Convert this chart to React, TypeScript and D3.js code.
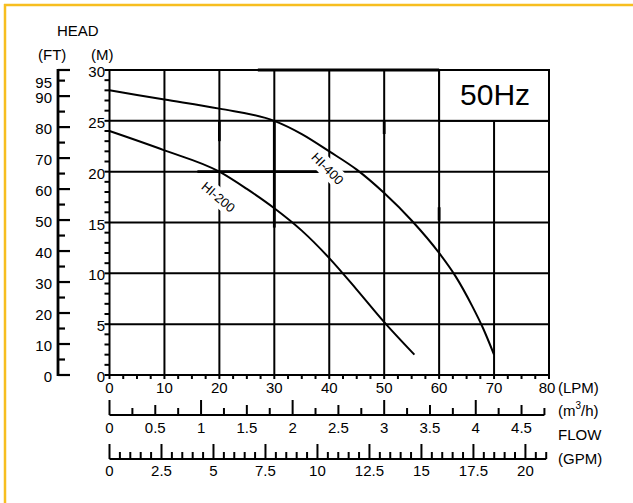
import React from 'react';
import * as d3 from 'd3';

// ---- data ----
const LPM_TICKS = [0, 10, 20, 30, 40, 50, 60, 70, 80];
const HEAD_M_TICKS = [0, 5, 10, 15, 20, 25, 30];
const FT_LABELS = [0, 10, 20, 30, 40, 50, 60, 70, 80, 90, 95];
const M3H_LABELS = [0, 0.5, 1, 1.5, 2, 2.5, 3, 3.5, 4, 4.5];
const GPM_LABELS = [0, 2.5, 5, 7.5, 10, 12.5, 15, 17.5, 20];

const HI200_FLOW = [0, 10, 20, 25, 30, 35, 40, 45, 50, 55.5];
const HI200_HEAD = [24.0, 22.1, 20.0, 18.3, 16.4, 14.2, 11.5, 8.4, 5.2, 2.0];
const HI400_FLOW = [0, 10, 20, 30, 35, 40, 45, 50, 55, 60, 63, 66, 68, 70];
const HI400_HEAD = [28.0, 27.1, 26.2, 25.0, 23.7, 22.0, 20.2, 17.9, 15.2, 12.0, 9.7, 6.8, 4.6, 2.0];

const CURVE_NAMES = ['HI-200', 'HI-400'];
const LABEL_FLOW = [19.8, 39.7];
const LABEL_HEAD = [17.5, 20.3];
const LABEL_ANGLE = [40, 45];

// heavier grid segments seen in the original print: [flow0, head0, flow1, head1]
const HEAVY_SEGMENTS: [number, number, number, number][] = [
  [27, 30, 60, 30],
  [16, 20, 38, 20],
  [30, 25, 30, 14.5],
  [20, 25, 20, 23],
  [50, 25, 50, 23.7],
  [60, 16.5, 60, 15.2],
];

const FREQ_LABEL = '50Hz';

const FONT = '"Liberation Sans", Arial, Helvetica, sans-serif';

export default function App() {
  const x = d3.scaleLinear().domain([0, 80]).range([109.5, 549]);
  const y = d3.scaleLinear().domain([0, 30]).range([375, 70]);
  const xM3h = (v: number) => x((v * 1000) / 60);
  const xGpm = (v: number) => x(v * 3.78541);
  const yFt = (v: number) => y(v * 0.3048);

  const line = d3
    .line<[number, number]>()
    .x((d) => x(d[0]))
    .y((d) => y(d[1]))
    .curve(d3.curveMonotoneX);

  const hi200: [number, number][] = HI200_FLOW.map((f, i) => [f, HI200_HEAD[i]]);
  const hi400: [number, number][] = HI400_FLOW.map((f, i) => [f, HI400_HEAD[i]]);

  const x0 = x(0), x1 = x(80), yTop = y(30), yBot = y(0);
  const ftAxisX = 58;

  const ftTicks = d3.range(0, 100, 5);
  const mMinor = d3.range(0, 31, 1);
  const lpmMinor = d3.range(0, 80.1, 2.5);
  const m3hTicks = d3.range(0, 4.76, 0.25);
  const gpmTicks = d3.range(0, 21.01, 0.5);

  const m3hY = 415;
  const gpmY = 459;

  const txt = { fontFamily: FONT, fontSize: 15, fill: '#000' } as const;

  return (
    <svg
      width={633}
      height={503}
      style={{ position: 'absolute', left: 0, top: 0, background: '#fff' }}
    >
      {/* yellow frame */}
      <line x1={4} y1={5} x2={633} y2={5} stroke="#F7BE1F" strokeWidth={2.5} />
      <line x1={5} y1={4} x2={5} y2={503} stroke="#F7BE1F" strokeWidth={2.5} />

      {/* titles */}
      <text x={57} y={36} {...txt}>HEAD</text>
      <text x={38} y={60} {...txt}>(FT)</text>
      <text x={91} y={60} {...txt}>(M)</text>

      {/* FT axis */}
      <line x1={ftAxisX} y1={yTop - 1} x2={ftAxisX} y2={yBot + 1} stroke="#000" strokeWidth={2.8} />
      <line x1={ftAxisX} y1={yTop} x2={ftAxisX + 12} y2={yTop} stroke="#000" strokeWidth={2.2} />
      {ftTicks.map((t) => (
        <line
          key={'ft' + t}
          x1={ftAxisX}
          x2={ftAxisX + (t % 10 === 0 ? 12 : 7)}
          y1={yFt(t)}
          y2={yFt(t)}
          stroke="#000"
          strokeWidth={2.2}
        />
      ))}
      {FT_LABELS.map((t) => (
        <text key={'ftl' + t} x={52} y={yFt(t) + 1.5} textAnchor="end" dominantBaseline="central" {...txt}>
          {t}
        </text>
      ))}

      {/* grid */}
      {LPM_TICKS.filter((t) => t > 0 && t < 80).map((t) => (
        <line key={'gv' + t} x1={x(t)} x2={x(t)} y1={yTop} y2={yBot} stroke="#000" strokeWidth={2} />
      ))}
      {HEAD_M_TICKS.filter((t) => t > 0 && t < 30).map((t) => (
        <line key={'gh' + t} x1={x0} x2={x1} y1={y(t)} y2={y(t)} stroke="#000" strokeWidth={2} />
      ))}
      <rect x={x0} y={yTop} width={x1 - x0} height={yBot - yTop} fill="none" stroke="#000" strokeWidth={2} />
      {HEAVY_SEGMENTS.map((s, i) => (
        <line
          key={'hv' + i}
          x1={x(s[0])}
          y1={y(s[1])}
          x2={x(s[2])}
          y2={y(s[3])}
          stroke="#000"
          strokeWidth={2.8}
        />
      ))}

      {/* curves */}
      <path d={line(hi200) || ''} fill="none" stroke="#000" strokeWidth={2} />
      <path d={line(hi400) || ''} fill="none" stroke="#000" strokeWidth={2} />

      {/* curve labels */}
      {CURVE_NAMES.map((n, i) => (
        <g
          key={n}
          transform={`translate(${x(LABEL_FLOW[i])},${y(LABEL_HEAD[i])}) rotate(${LABEL_ANGLE[i]})`}
        >
          <rect x={-24} y={-9} width={48} height={18} fill="#fff" />
          <text
            x={0}
            y={0}
            textAnchor="middle"
            dominantBaseline="central"
            fontFamily={FONT}
            fontSize={13}
            fill="#000"
          >
            {n}
          </text>
        </g>
      ))}

      {/* frequency box */}
      <rect
        x={x(60)}
        y={y(30)}
        width={x(80) - x(60)}
        height={y(25) - y(30)}
        fill="#fff"
        stroke="#000"
        strokeWidth={2}
      />
      <text
        x={(x(60) + x(80)) / 2 + 1}
        y={105}
        textAnchor="middle"
        fontFamily={FONT}
        fontSize={30}
        fill="#000"
      >
        {FREQ_LABEL}
      </text>

      {/* M axis */}
      {mMinor.map((t) => (
        <line key={'mt' + t} x1={x0 - 5} x2={x0} y1={y(t)} y2={y(t)} stroke="#000" strokeWidth={2} />
      ))}
      {HEAD_M_TICKS.map((t) => (
        <text key={'ml' + t} x={105} y={y(t) + 1.5} textAnchor="end" dominantBaseline="central" {...txt}>
          {t}
        </text>
      ))}

      {/* LPM axis */}
      {lpmMinor.map((t) => (
        <line key={'lt' + t} x1={x(t)} x2={x(t)} y1={yBot} y2={yBot + 4} stroke="#000" strokeWidth={2} />
      ))}
      {LPM_TICKS.map((t) => (
        <text key={'ll' + t} x={x(t) - (t === 80 ? 2 : 0)} y={387} textAnchor="middle" dominantBaseline="central" {...txt}>
          {t}
        </text>
      ))}
      <text x={558} y={387} dominantBaseline="central" {...txt}>(LPM)</text>

      {/* m3/h axis */}
      <line x1={x0} x2={xM3h(4.75)} y1={m3hY} y2={m3hY} stroke="#000" strokeWidth={2} />
      {m3hTicks.map((t) => {
        const r = Math.round(t * 100);
        const len = r % 100 === 0 ? 15 : r % 50 === 0 ? 10 : 7;
        return (
          <line key={'m3' + t} x1={xM3h(t)} x2={xM3h(t)} y1={m3hY} y2={m3hY - len} stroke="#000" strokeWidth={2} />
        );
      })}
      {M3H_LABELS.map((t) => (
        <text key={'m3l' + t} x={xM3h(t)} y={427} textAnchor="middle" dominantBaseline="central" {...txt}>
          {t}
        </text>
      ))}
      <text x={558} y={410} dominantBaseline="central" {...txt}>
        (m<tspan fontSize={10} dy={-5}>3</tspan><tspan dy={5}>/h)</tspan>
      </text>
      <text x={558} y={434} dominantBaseline="central" {...txt}>FLOW</text>

      {/* GPM axis */}
      <line x1={x0} x2={xGpm(21)} y1={gpmY} y2={gpmY} stroke="#000" strokeWidth={2} />
      {gpmTicks.map((t) => {
        const r = Math.round(t * 10);
        const len = r % 25 === 0 ? 15 : 7;
        return (
          <line key={'g' + t} x1={xGpm(t)} x2={xGpm(t)} y1={gpmY} y2={gpmY - len} stroke="#000" strokeWidth={2} />
        );
      })}
      {GPM_LABELS.map((t) => (
        <text key={'gl' + t} x={xGpm(t)} y={470} textAnchor="middle" dominantBaseline="central" {...txt}>
          {t}
        </text>
      ))}
      <text x={558} y={458} dominantBaseline="central" {...txt}>(GPM)</text>
    </svg>
  );
}
